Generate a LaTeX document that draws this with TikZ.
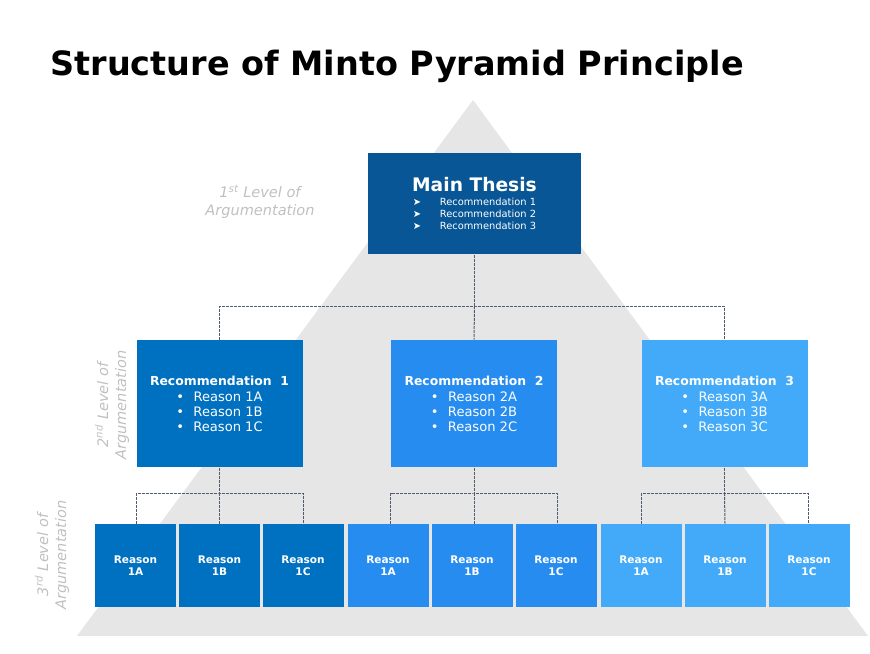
\documentclass[tikz,border=0pt]{standalone}
\usepackage{fontspec}
\setmainfont{DejaVu Sans}
\usepackage{tikz}

\definecolor{pyrgray}{RGB}{230,230,230}
\definecolor{thesisblue}{RGB}{8,86,150}
\definecolor{recone}{RGB}{0,112,192}
\definecolor{rectwo}{RGB}{38,140,240}
\definecolor{recthree}{RGB}{66,170,248}
\definecolor{levelgray}{RGB}{192,192,192}
\definecolor{conngray}{RGB}{80,92,112}

\tikzset{every picture/.style={line width=0.75pt}}
\tikzset{
  thesisbox/.style={fill=thesisblue,text=white,minimum width=159.75pt,minimum height=75.75pt,inner sep=0pt,align=center,font=\fontsize{7.4}{9}\selectfont},
  recbox/.style={fill=#1,text=white,minimum width=124.5pt,minimum height=95.25pt,inner sep=0pt,align=center,font=\fontsize{9.8}{11.25}\selectfont},
  reasonbox/.style={fill=#1,text=white,minimum width=60.75pt,minimum height=62.25pt,inner sep=0pt,align=center,font=\fontsize{7.9}{9}\selectfont\bfseries},
  levellabel/.style={text=levelgray,inner sep=0pt,align=center,font=\fontsize{10.9}{13.5}\selectfont\itshape},
  conn/.style={draw=conngray,line width=0.75pt,dash pattern={on 2.25pt off 0.75pt}}
}

\begin{document}
\begin{tikzpicture}[x=0.75pt,y=0.75pt,yscale=-1,xscale=1]
\path (0,0) rectangle (870,653); %set diagram size 870 x 653

%Pyramid
\fill [pyrgray] (473,100) -- (868,636) -- (77,636) -- cycle ;

% Title
\node (title) at (50,75) [anchor=base west,inner sep=0pt,font=\fontsize{25.1}{30}\selectfont\bfseries] {Structure of Minto Pyramid Principle};

% Main Thesis
\node (thesis) at (474.5,203.5) [thesisbox] {{\fontsize{14}{16}\selectfont\bfseries Main Thesis}\\[2pt]
➤\hspace{14pt}Recommendation 1\\
➤\hspace{14pt}Recommendation 2\\
➤\hspace{14pt}Recommendation 3};

% Recommendations
\node (rec1) at (219.5,403.5) [recbox=recone] {{\fontsize{9.3}{10}\selectfont\bfseries Recommendation~~1}\\[0.75pt]
•\hspace{7pt}Reason 1A\\ •\hspace{7pt}Reason 1B\\ •\hspace{7pt}Reason 1C};
\node (rec2) at (474,403.5) [recbox=rectwo] {{\fontsize{9.3}{10}\selectfont\bfseries Recommendation~~2}\\[0.75pt]
•\hspace{7pt}Reason 2A\\ •\hspace{7pt}Reason 2B\\ •\hspace{7pt}Reason 2C};
\node (rec3) at (724.5,403.5) [recbox=recthree] {{\fontsize{9.3}{10}\selectfont\bfseries Recommendation~~3}\\[0.75pt]
•\hspace{7pt}Reason 3A\\ •\hspace{7pt}Reason 3B\\ •\hspace{7pt}Reason 3C};

% Reasons
\node (rea1a) at (135.5,565.5) [reasonbox=recone] {Reason\\1A};
\node (rea1b) at (219.5,565.5) [reasonbox=recone] {Reason\\1B};
\node (rea1c) at (303,565.5) [reasonbox=recone] {Reason\\1C};
\node (rea2a) at (388,565.5) [reasonbox=rectwo] {Reason\\1A};
\node (rea2b) at (472,565.5) [reasonbox=rectwo] {Reason\\1B};
\node (rea2c) at (556,565.5) [reasonbox=rectwo] {Reason\\1C};
\node (rea3a) at (641,565.5) [reasonbox=recthree] {Reason\\1A};
\node (rea3b) at (725,565.5) [reasonbox=recthree] {Reason\\1B};
\node (rea3c) at (809,565.5) [reasonbox=recthree] {Reason\\1C};

%Connectors
\coordinate (bar0) at (474.5,306);
\draw [conn] (thesis.south) -- (bar0) ;
\draw [conn] (rec1.north) |- (bar0) -| (rec3.north) ;
\draw [conn] (bar0) -- (rec2.north) ;

\coordinate (bar1) at (219.5,493);
\draw [conn] (rec1.south) -- (bar1) ;
\draw [conn] (rea1a.north -| rec1.west) |- (bar1) -| (rea1c.north -| rec1.east) ;
\draw [conn] (bar1) -- (rea1b.north) ;

\coordinate (bar2) at (474,493);
\draw [conn] (rec2.south) -- (bar2) ;
\draw [conn] (rea2a.north -| rec2.west) |- (bar2) -| (rea2c.north -| rec2.east) ;
\draw [conn] (bar2) -- (bar2 |- rea2b.north) ;

\coordinate (bar3) at (724.5,493);
\draw [conn] (rec3.south) -- (bar3) ;
\draw [conn] (rea3a.north -| rec3.west) |- (bar3) -| (rea3c.north -| rec3.east) ;
\draw [conn] (bar3) -- (rea3b.north) ;

% Level labels
\node (lvl1) at (260,202) [levellabel] {1\textsuperscript{st} Level of\\Argumentation};
\node (lvl2) at (112,405) [levellabel,rotate=90] {2\textsuperscript{nd} Level of\\Argumentation};
\node (lvl3) at (52,555) [levellabel,rotate=90] {3\textsuperscript{rd} Level of\\Argumentation};

\end{tikzpicture}
\end{document}
